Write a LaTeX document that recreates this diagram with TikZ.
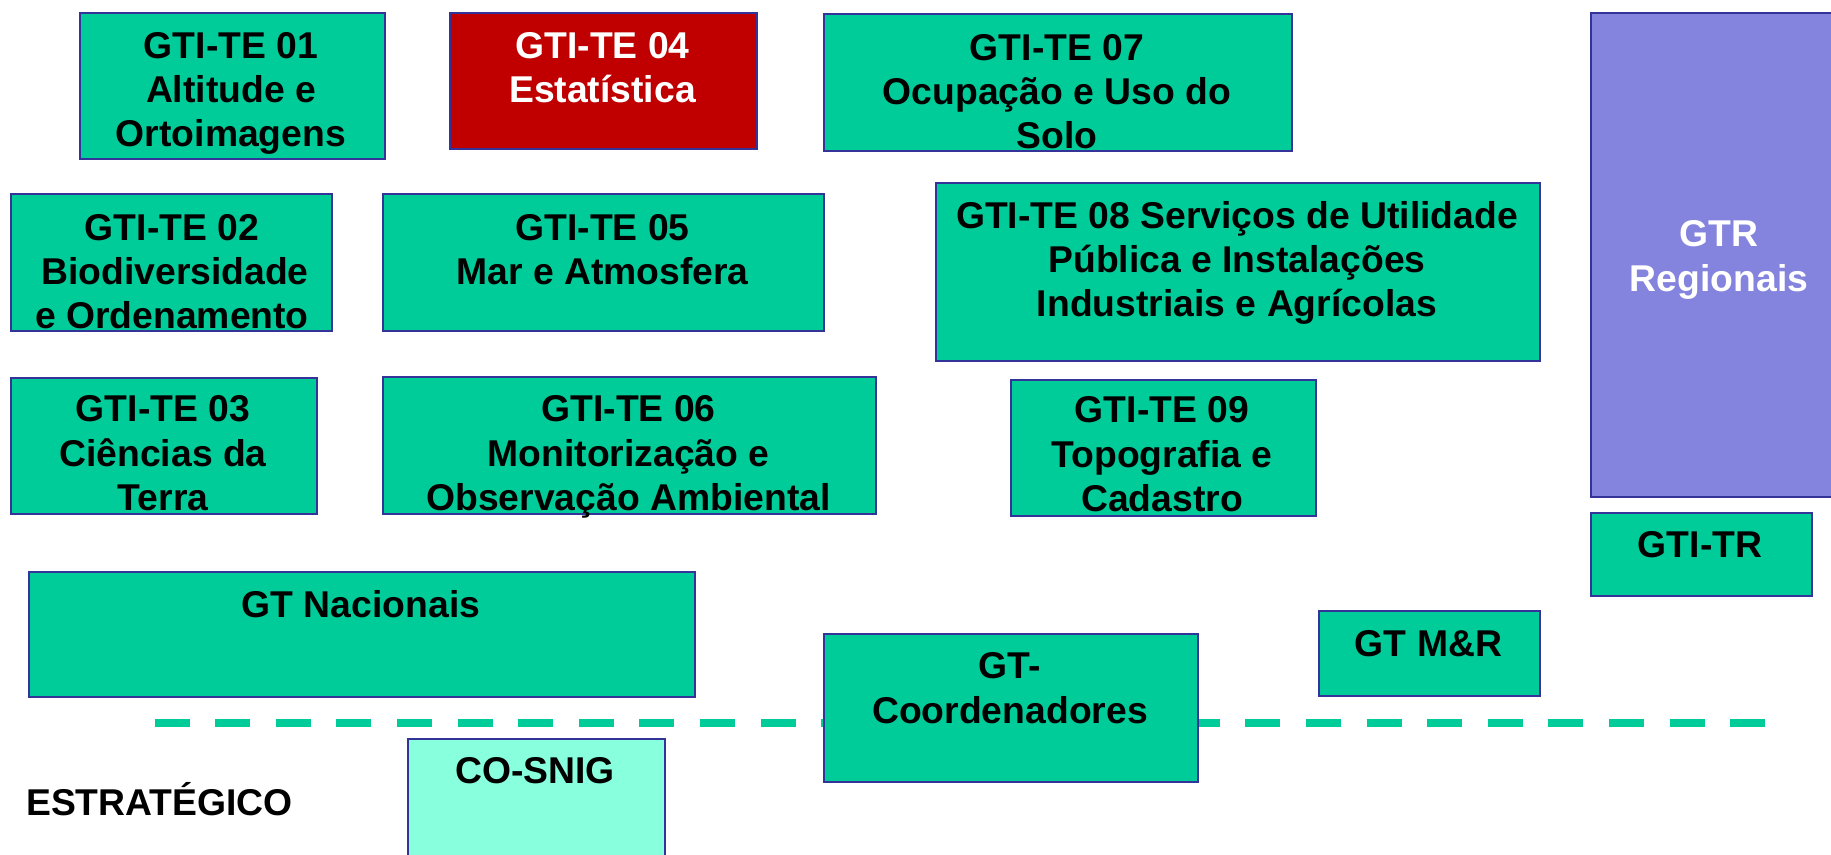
\documentclass[tikz,border=0pt]{standalone}
\usepackage{fontspec}
\setmainfont{Liberation Sans}
\definecolor{gfill}{HTML}{00CC99}
\definecolor{bdr}{HTML}{333399}
\definecolor{rfill}{HTML}{C00000}
\definecolor{pfill}{HTML}{8484DE}
\definecolor{lfill}{HTML}{88FFDD}
\tikzset{
  gbox/.style={draw=bdr, line width=1.8pt, fill=gfill, anchor=north west, inner sep=0pt},
  lbl/.style={anchor=base, align=center, inner sep=0pt, text=black,
    font=\fontsize{37.3pt}{44.3pt}\selectfont\bfseries},
}
\begin{document}
\begin{tikzpicture}[x=1pt,y=-1pt]
\useasboundingbox (0,0) rectangle (1831,854);
% dashed separator
\coordinate (dl) at (154.6,722.7);
\coordinate (dr) at (1765.7,722.7);
\draw[gfill, line width=8.3pt, dash pattern=on 35pt off 25.6pt] (dl) -- (dr);
% boxes
\node[gbox, minimum width=305pt, minimum height=146pt] (b01) at (79,12) {};
\node[gbox, fill=rfill, minimum width=307pt, minimum height=136pt] (b04) at (449,12) {};
\node[gbox, minimum width=468pt, minimum height=137pt] (b07) at (823,13) {};
\node[gbox, minimum width=321pt, minimum height=137pt] (b02) at (10,193) {};
\node[gbox, minimum width=441pt, minimum height=137pt] (b05) at (382,193) {};
\node[gbox, minimum width=306pt, minimum height=136pt] (b03) at (10,377) {};
\node[gbox, minimum width=493pt, minimum height=137pt] (b06) at (382,376) {};
\node[gbox, minimum width=604pt, minimum height=178pt] (b08) at (935,182) {};
\node[gbox, minimum width=305pt, minimum height=136pt] (b09) at (1010,379) {};
\node[gbox, fill=pfill, minimum width=260pt, minimum height=484pt] (gtr) at (1590,12) {};
\node[gbox, minimum width=221pt, minimum height=83pt] (gtitr) at (1590,512) {};
\node[gbox, minimum width=221pt, minimum height=85pt] (gtmr) at (1318,610) {};
\node[gbox, minimum width=374pt, minimum height=148pt] (gtc) at (823,633) {};
\node[gbox, minimum width=666pt, minimum height=125pt] (gtn) at (28,571) {};
\node[gbox, fill=lfill, minimum width=257pt, minimum height=140pt] (cos) at (407,738) {};
% texts (anchor = baseline of last line)
\node[lbl] (t01) at (231,146.9) {GTI-TE 01\\Altitude e\\Ortoimagens};
\node[lbl, text=white] (t04) at (602.5,102.6) {GTI-TE 04\\Estatística};
\node[lbl] (t07) at (1057,148.6) {GTI-TE 07\\Ocupação e Uso do\\Solo};
\node[lbl] (t02) at (172,328.6) {GTI-TE 02\\\hspace*{6pt}Biodiversidade\\e Ordenamento};
\node[lbl] (t05) at (602.5,284.3) {GTI-TE 05\\Mar e Atmosfera};
\node[lbl] (t03) at (163,510.3) {GTI-TE 03\\Ciências da\\Terra};
\node[lbl] (t06) at (628.5,510.3) {GTI-TE 06\\Monitorização e\\Observação Ambiental};
\node[lbl] (t08) at (1237,316.9) {GTI-TE 08 Serviços de Utilidade\\Pública e Instalações\\Industriais e Agrícolas};
\node[lbl] (t09) at (1162,511.3) {GTI-TE 09\\Topografia e\\Cadastro};
\node[lbl, text=white] (tgtr) at (1719,291) {GTR\\Regionais};
\node[lbl] (tgtitr) at (1700,557) {GTI-TR};
\node[lbl] (tgtmr) at (1428.5,656.3) {GT M\&R};
\node[lbl] (tgtc) at (1010,723) {GT-\\Coordenadores};
\node[lbl] (tgtn) at (361,617) {GT Nacionais};
\node[lbl] (tcos) at (535,783) {CO-SNIG};
\node[lbl, anchor=base west] (testr) at (26,815) {ESTRATÉGICO};
\end{tikzpicture}
\end{document}
